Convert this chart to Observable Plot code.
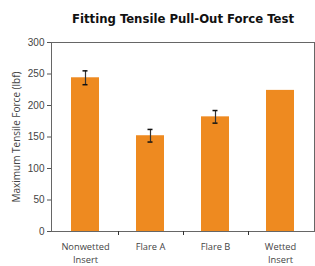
<!DOCTYPE html>
<html><head><meta charset="utf-8">
<script src="https://cdn.jsdelivr.net/npm/d3@7"></script>
<script src="https://cdn.jsdelivr.net/npm/@observablehq/plot@0.6"></script>
<style>
body{margin:0;background:#fff;}
#title{box-sizing:border-box;height:30px;padding-top:12px;padding-left:51px;width:315px;text-align:center;font:bold 13px "Liberation Sans Narrow","DejaVu Sans Condensed",sans-serif;line-height:14px;color:#111;}
</style></head><body>
<div id="title">Fitting Tensile Pull-Out Force Test</div>
<div id="chart"></div>
<script>
const categories = ["Nonwetted\nInsert", "Flare A", "Flare B", "Wetted\nInsert"];
const forces = [244, 152, 182, 224];
const errors = [11, 10, 10, null];
const yTicks = [0, 50, 100, 150, 200, 250, 300];
const yLabel = "Maximum Tensile Force (lbf)";

const data = categories.map((c, i) => ({cat: c, force: forces[i], err: errors[i]}));
const errData = data.filter(d => d.err != null);
const orange = "#EE8A20";

const chart = Plot.plot({
  width: 315, height: 236,
  marginTop: 12, marginBottom: 35, marginLeft: 51, marginRight: 1,
  style: {fontFamily: "'Liberation Sans', Arial, sans-serif", fontSize: "10px", color: "#444", background: "#fff"},
  x: {domain: categories, paddingInner: 0.576, paddingOuter: 0.288},
  y: {domain: [0, 300]},
  marks: [
    Plot.barY(data, {x: "cat", y: "force", fill: orange}),
    Plot.ruleX(errData, {x: "cat", y1: d => d.force - d.err, y2: d => d.force + d.err, stroke: "#333", strokeWidth: 1.2}),
    Plot.tickY(errData, {x: "cat", y: d => d.force - d.err, insetLeft: 11.5, insetRight: 11.5, stroke: "#111", strokeWidth: 1.5}),
    Plot.tickY(errData, {x: "cat", y: d => d.force + d.err, insetLeft: 11.5, insetRight: 11.5, stroke: "#111", strokeWidth: 1.5}),
    Plot.frame({stroke: "#666"}),
    Plot.axisY(yTicks, {tickSize: 4, tickPadding: 3, label: null, stroke: "#555"}),
    Plot.axisX({tickSize: 0, tickPadding: 10, label: null, lineHeight: 1.36, fontFamily: "'Open Sans', sans-serif", fontSize: 9.3, fill: "#444"}),
    Plot.axisX(categories.slice(0, 3), {tickSize: 4, dx: 33, tickFormat: () => "", label: null, stroke: "#333"}),
    Plot.text([yLabel], {frameAnchor: "left", textAnchor: "middle", rotate: -90, dx: -35, fontSize: 10, fill: "#444", fontFamily: "'Open Sans', sans-serif"})
  ]
});
document.getElementById("chart").appendChild(chart);
</script>
</body></html>
